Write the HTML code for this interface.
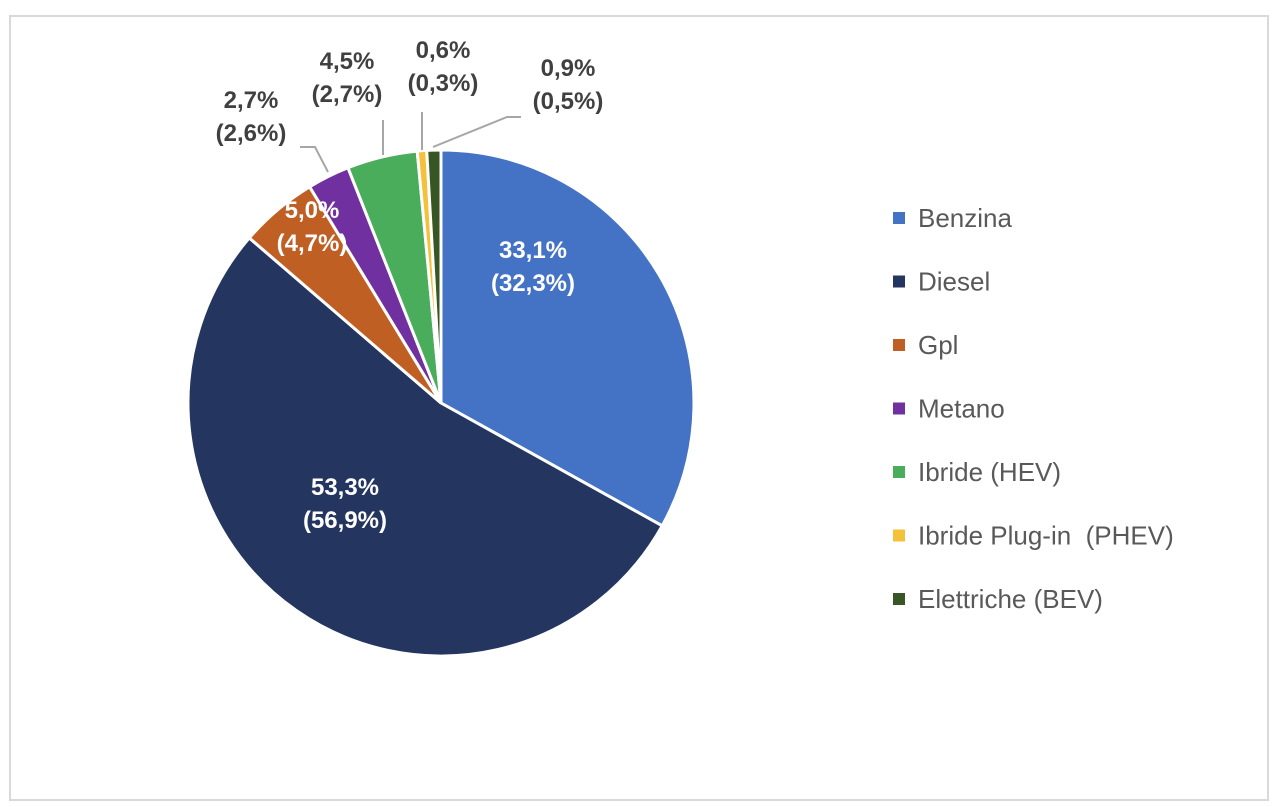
<!DOCTYPE html>
<html><head><meta charset="utf-8"><style>
body{margin:0;background:#fff;}
svg{display:block;font-family:"Liberation Sans",sans-serif;}
</style></head><body>
<svg width="1280" height="807">
<rect x="10" y="16" width="1258" height="784" fill="#fff" stroke="#d9d9d9" stroke-width="2"/>
<g id="slices"></g><g id="leaders"></g><g id="labels"></g><g id="legend"></g>
</svg>
<script>
const categories = ["Benzina","Diesel","Gpl","Metano","Ibride (HEV)","Ibride Plug-in  (PHEV)","Elettriche (BEV)"];
const values = [33.1,53.3,5.0,2.7,4.5,0.6,0.9];
const labelMain = ["33,1%","53,3%","5,0%","2,7%","4,5%","0,6%","0,9%"];
const labelPrev = ["(32,3%)","(56,9%)","(4,7%)","(2,6%)","(2,7%)","(0,3%)","(0,5%)"];
const colors = ["#4472c4","#243660","#c05f23","#7030a0","#4aad5b","#f4c13b","#375623"];
const ns="http://www.w3.org/2000/svg";
const cx=441, cy=403, R=253;
const total=values.reduce((a,b)=>a+b,0);
function pt(a,r){return [cx+r*Math.sin(a), cy-r*Math.cos(a)];}
const sl=document.getElementById('slices');
let a0=0;
values.forEach((v,i)=>{
  const a1=a0+v/total*2*Math.PI;
  const p0=pt(a0,R), p1=pt(a1,R);
  const large=(a1-a0)>Math.PI?1:0;
  const p=document.createElementNS(ns,'path');
  p.setAttribute('d',`M${cx},${cy}L${p0[0]},${p0[1]}A${R},${R} 0 ${large} 1 ${p1[0]},${p1[1]}Z`);
  p.setAttribute('fill',colors[i]);p.setAttribute('stroke','#fff');p.setAttribute('stroke-width','3');
  
  
  sl.appendChild(p);
  a0=a1;
});
// label layout (positions)
const labelPos=[[533,258,'#fff'],[345,495,'#fff'],[312,218,'#fff'],[251,108,'#404040'],[347,69,'#404040'],[443,58,'#404040'],[568,76,'#404040']];
const lb=document.getElementById('labels');
labelPos.forEach((q,i)=>{
  const t=document.createElementNS(ns,'text');
  t.setAttribute('x',q[0]);t.setAttribute('y',q[1]);t.setAttribute('text-anchor','middle');
  t.setAttribute('font-size','24');t.setAttribute('font-weight','bold');t.setAttribute('fill',q[2]);
  
  
  const s1=document.createElementNS(ns,'tspan');s1.setAttribute('x',q[0]);s1.textContent=labelMain[i];
  const s2=document.createElementNS(ns,'tspan');s2.setAttribute('x',q[0]);s2.setAttribute('dy','33');s2.textContent=labelPrev[i];
  t.appendChild(s1);t.appendChild(s2);lb.appendChild(t);
});
const leaders=["M300,147L315,147L328,172","M383,120L383,155","M422,112L422,150","M433,147L507,117L521,117"];
const ld=document.getElementById('leaders');
leaders.forEach((d,i)=>{
  const p=document.createElementNS(ns,'path');
  p.setAttribute('d',d);p.setAttribute('fill','none');p.setAttribute('stroke','#a6a6a6');p.setAttribute('stroke-width','2');
  
  
  ld.appendChild(p);
});
const lg=document.getElementById('legend');
categories.forEach((c,i)=>{
  const y=218+i*63.5;
  const g=document.createElementNS(ns,'g');
  
  
  const r=document.createElementNS(ns,'rect');
  r.setAttribute('x',893);r.setAttribute('y',y-6);r.setAttribute('width',12);r.setAttribute('height',12);r.setAttribute('fill',colors[i]);
  const t=document.createElementNS(ns,'text');
  t.setAttribute('x',918);t.setAttribute('y',y+9);t.setAttribute('font-size','26');t.setAttribute('fill','#595959');
  t.setAttribute('xml:space','preserve');t.style.whiteSpace='pre';
  t.textContent=c;
  g.appendChild(r);g.appendChild(t);lg.appendChild(g);
});
</script>
</body></html>
